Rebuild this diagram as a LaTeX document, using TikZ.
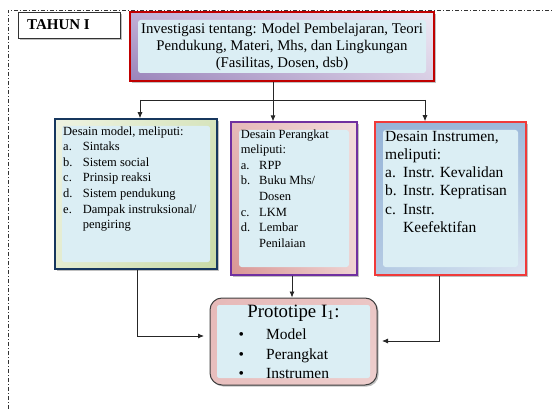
\documentclass[tikz,border=0pt]{standalone}
\usepackage{fontspec}
\setmainfont{Liberation Serif}
\usetikzlibrary{arrows.meta,calc,shadows,shadings}

\definecolor{paneblue}{HTML}{DBEEF4}
\definecolor{topred}{HTML}{C00000}
\definecolor{navyline}{HTML}{17375E}
\definecolor{purpleline}{HTML}{7030A0}
\definecolor{redline}{HTML}{F03A3A}
\definecolor{grayline}{HTML}{404040}
% frame shades
\definecolor{lavA}{HTML}{C0B0D6}\definecolor{lavB}{HTML}{EEE9F3}
\definecolor{lavC}{HTML}{9A84BA}\definecolor{lavD}{HTML}{D9CFE5}
\definecolor{olA}{HTML}{EEF3E2}\definecolor{olB}{HTML}{D7E4BD}
\definecolor{olC}{HTML}{E4ECD0}\definecolor{olD}{HTML}{C9DAA6}
\definecolor{rosA}{HTML}{E6B9B8}\definecolor{rosB}{HTML}{F2DCDB}
\definecolor{rosC}{HTML}{D99694}\definecolor{rosD}{HTML}{EFD3D2}
\definecolor{skyA}{HTML}{95B3D7}\definecolor{skyB}{HTML}{9DB9DA}
\definecolor{skyC}{HTML}{B4CAE3}\definecolor{skyD}{HTML}{DCE6F2}
\definecolor{pinA}{HTML}{E6B9B8}\definecolor{pinB}{HTML}{EBC6C5}
\definecolor{pinC}{HTML}{E8BFBE}\definecolor{pinD}{HTML}{EECFCE}

\tikzset{
  x={(1pt,0)}, y={(0,-1pt)},
  % light blue panel laid over the shaded frame of a box
  pane/.style={path picture={
      \fill[paneblue,rounded corners=#1/3]
        ($(path picture bounding box.north west)+(#1,-#1)$) rectangle
        ($(path picture bounding box.south east)+(-#1,#1)$);}},
  pane/.default=7pt,
  boxshadow/.style={drop shadow={shadow xshift=1.6pt,shadow yshift=-1.6pt,
      fill=black!45,opacity=0.55}},
  card/.style={rectangle,inner sep=0pt,boxshadow,pane},
  link/.style={draw=black!85,line width=0.8pt},
  arr/.style={link,-{Latex[length=6pt,width=5pt]}},
  listfont/.style={font=\fontsize{12.5}{15.6}\selectfont},
}

\begin{document}
\begin{tikzpicture}
\useasboundingbox (0,0) rectangle (552,409);

% outer dash-dot frame
\draw[black!80,line width=0.8pt,dash pattern=on 4pt off 2pt on 1pt off 2pt]
  (8,409) -- (8,10) -- (552,10);

% year label
\node[draw=black!80,fill=white,line width=0.8pt,minimum width=102pt,minimum height=26pt,
      boxshadow] (tahunbox) at (69,25) {};
\node[anchor=west,inner sep=0pt,font=\fontsize{15}{17}\selectfont\bfseries] (tahun) at (27,25) {TAHUN I};

% investigation box
\node[card,pane=8pt,draw=topred,line width=2pt,minimum width=304pt,minimum height=69pt,
      upper left=lavA,upper right=lavB,lower left=lavC,lower right=lavD,
      align=center,font=\fontsize{14.8}{17}\selectfont] (topbox) at (282,46.5)
  {Investigasi tentang: Model Pembelajaran, Teori\\Pendukung, Materi, Mhs, dan Lingkungan\\(Fasilitas, Dosen, dsb)};

% three design boxes
\node[card,draw=navyline,line width=1.5pt,minimum width=162pt,minimum height=150pt,
      upper left=olA,upper right=olB,lower left=olC,lower right=olD] (leftbox) at (136,194) {};
\node[card,pane=8pt,draw=purpleline,line width=1.2pt,minimum width=126pt,minimum height=153pt,
      upper left=rosA,upper right=rosB,lower left=rosC,lower right=rosD] (midbox) at (294,198.5) {};
\node[card,pane=8pt,draw=redline,line width=1.5pt,minimum width=151pt,minimum height=153pt,
      upper left=skyA,upper right=skyB,lower left=skyC,lower right=skyD] (rightbox) at (450.5,198.5) {};

% prototype box
\node[card,draw=grayline,line width=1pt,rounded corners=12pt,minimum width=167pt,minimum height=87pt,
      upper left=pinA,upper right=pinB,lower left=pinC,lower right=pinD] (proto) at (293.5,341.5) {};

% box texts
\node[anchor=north west,inner sep=0pt,listfont] (lefttext) at (63,124) {%
  \begin{tabular}{@{}p{19.7pt}@{}l@{}}
  \multicolumn{2}{@{}l@{}}{Desain model, meliputi:}\\
  a. & Sintaks\\
  b. & Sistem social\\
  c. & Prinsip reaksi\\
  d. & Sistem pendukung\\
  e. & Dampak instruksional/\\
     & pengiring
  \end{tabular}};

\node[anchor=north west,inner sep=0pt,listfont] (midtext) at (240.7,127) {%
  \begin{tabular}{@{}p{18.3pt}@{}l@{}}
  \multicolumn{2}{@{}l@{}}{Desain Perangkat}\\
  \multicolumn{2}{@{}l@{}}{meliputi:}\\
  a. & RPP\\
  b. & Buku Mhs/\\
     & Dosen\\
  c. & LKM\\
  d. & Lembar\\
     & Penilaian
  \end{tabular}};

\node[anchor=north west,inner sep=0pt,font=\fontsize{15.5}{18.3}\selectfont] (righttext) at (385,128) {%
  \begin{tabular}{@{}p{18pt}@{}l@{}}
  \multicolumn{2}{@{}l@{}}{Desain Instrumen,}\\
  \multicolumn{2}{@{}l@{}}{meliputi:}\\
  a. & Instr. Kevalidan\\
  b. & Instr. Kepratisan\\
  c. & Instr.\\
     & Keefektifan
  \end{tabular}};

\node[inner sep=0pt,font=\fontsize{18.8}{21}\selectfont] (prototitle) at (293.5,313) {Prototipe I\textsubscript{1}:};
\node[anchor=north west,inner sep=0pt,font=\fontsize{15.5}{19.5}\selectfont] (protolist) at (238.5,326) {%
  \begin{tabular}{@{}p{27.5pt}@{}l@{}}
  \textbullet & Model\\
  \textbullet & Perangkat\\
  \textbullet & Instrumen
  \end{tabular}};

% connectors
\coordinate (busM) at (273,100);
\coordinate (busL) at (140,100);
\coordinate (busR) at (425,100);
\coordinate (inL) at (204,336);
\coordinate (inR) at (382,341);

\draw[link] ([xshift=-9pt]topbox.south) -- (busM);
\draw[link] (busL) -- (busR);
\draw[arr] (busL) -- (busL |- leftbox.north);
\draw[arr] (busM) -- (busM |- midbox.north);
\draw[arr] (busR) -- (busR |- rightbox.north);

\draw[arr] ([xshift=-2pt]midbox.south) -- ([xshift=-2pt]midbox.south |- proto.north);
\draw[arr] ([xshift=1pt]leftbox.south) |- (inL);
\draw[arr] ([xshift=-11.5pt]rightbox.south) |- (inR);
\end{tikzpicture}
\end{document}
